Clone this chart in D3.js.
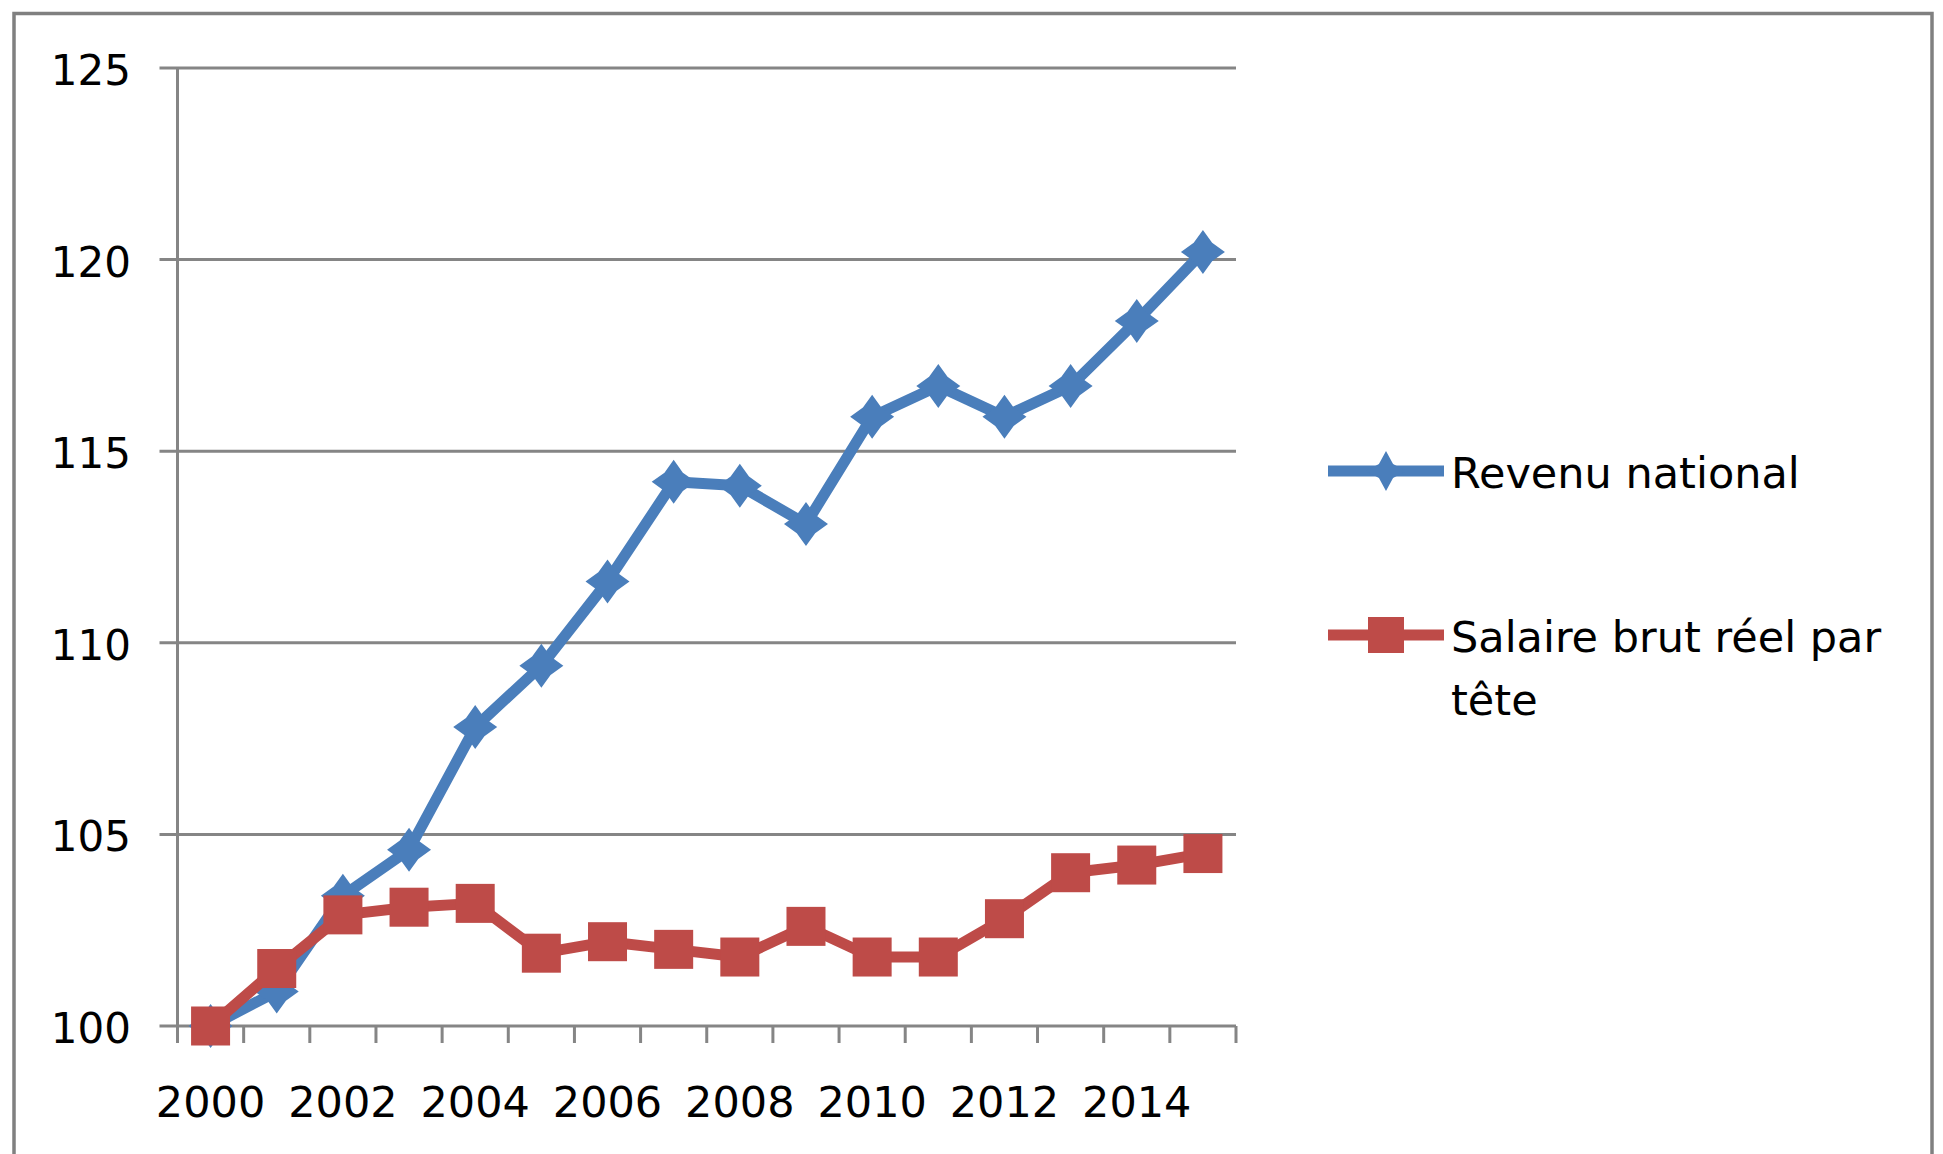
<!DOCTYPE html>
<html><head><meta charset="utf-8">
<script src="https://cdn.jsdelivr.net/npm/d3@7"></script>
<style>html,body{margin:0;padding:0;background:#fff}svg{display:block}</style>
</head><body>
<svg id="chart" width="1943" height="1154"></svg>
<script>
// ---- data ----
const years = [2000,2001,2002,2003,2004,2005,2006,2007,2008,2009,2010,2011,2012,2013,2014,2015];
const revenuNational = [100.0,100.9,103.4,104.6,107.8,109.4,111.6,114.2,114.1,113.1,115.9,116.7,115.9,116.7,118.4,120.2];
const salaireBrut = [100.0,101.5,102.9,103.1,103.2,101.9,102.2,102.0,101.8,102.6,101.8,101.8,102.8,104.0,104.2,104.5];
const yTicks = [100,105,110,115,120,125];
const xTickLabels = [2000,2002,2004,2006,2008,2010,2012,2014];
const seriesNames = ["Revenu national", "Salaire brut réel par tête"];

(function () {
// ---- layout ----
const svg = d3.select("#chart");
const W = 1943, H = 1154;
const pLeft = 177.5, pRight = 1236, pTop = 68, pBottom = 1026;
const blue = "#4A7EBB", red = "#BE4B48", grid = "#858585";
const font = "'DejaVu Sans', Verdana, sans-serif";

svg.append("rect").attr("width", W).attr("height", H).attr("fill", "#fff");
// outer frame (bottom edge outside picture)
svg.append("rect").attr("x", 14).attr("y", 13.5).attr("width", 1918).attr("height", 1200)
  .attr("fill", "none").attr("stroke", "#808080").attr("stroke-width", 3.5);

const x = d3.scaleBand().domain(years).range([pLeft, pRight]);
const y = d3.scaleLinear().domain([100, 125]).range([pBottom, pTop]);

// gridlines + y ticks
const g = svg.append("g");
g.selectAll("line.grid").data(yTicks).join("line")
  .attr("x1", pLeft - 18).attr("x2", pRight)
  .attr("y1", d => y(d)).attr("y2", d => y(d))
  .attr("stroke", grid).attr("stroke-width", 3);
// y axis
g.append("line").attr("x1", pLeft).attr("x2", pLeft).attr("y1", y(125)).attr("y2", pBottom + 17)
  .attr("stroke", grid).attr("stroke-width", 3);
// x ticks at category boundaries
const boundaries = years.map(d => x(d)).concat([pRight]);
g.selectAll("line.xt").data(boundaries).join("line")
  .attr("x1", d => d).attr("x2", d => d).attr("y1", pBottom).attr("y2", pBottom + 17)
  .attr("stroke", grid).attr("stroke-width", 3);

// y labels
g.selectAll("text.yl").data(yTicks).join("text")
  .attr("x", 131).attr("y", d => y(d) + 17)
  .attr("text-anchor", "end").attr("font-family", font).attr("font-size", 42).attr("fill", "#000")
  .text(d => d);
// x labels
g.selectAll("text.xl").data(xTickLabels).join("text")
  .attr("x", d => x(d) + x.bandwidth() / 2).attr("y", 1117)
  .attr("text-anchor", "middle").attr("font-family", font).attr("font-size", 43).attr("fill", "#000")
  .text(d => d);

// star-diamond marker path
function diamond(cx, cy, R, r) {
  const pts = [];
  for (let i = 0; i < 8; i++) {
    const a = -Math.PI / 2 + i * Math.PI / 4;
    const rad = i % 2 === 0 ? R : r;
    pts.push([cx + rad * Math.cos(a), cy + rad * Math.sin(a)]);
  }
  return "M" + pts.map(p => p.join(",")).join("L") + "Z";
}

const line = d3.line().x(d => x(d.year) + x.bandwidth() / 2).y(d => y(d.v));
const blueData = years.map((yr, i) => ({year: yr, v: revenuNational[i]}));
const redData = years.map((yr, i) => ({year: yr, v: salaireBrut[i]}));

// blue series
svg.append("path").datum(blueData).attr("d", line).attr("fill", "none")
  .attr("stroke", blue).attr("stroke-width", 11).attr("stroke-linejoin", "round");
svg.selectAll("path.bm").data(blueData).join("path")
  .attr("d", d => diamond(x(d.year) + x.bandwidth() / 2, y(d.v), 22, 13))
  .attr("fill", blue);

// red series
svg.append("path").datum(redData).attr("d", line).attr("fill", "none")
  .attr("stroke", red).attr("stroke-width", 11).attr("stroke-linejoin", "round");
svg.selectAll("rect.rm").data(redData).join("rect")
  .attr("x", d => x(d.year) + x.bandwidth() / 2 - 19.5).attr("y", d => y(d.v) - 19.5)
  .attr("width", 39).attr("height", 39).attr("fill", red);

// legend
const lg = svg.append("g");
lg.append("line").attr("x1", 1328).attr("x2", 1444).attr("y1", 471).attr("y2", 471)
  .attr("stroke", blue).attr("stroke-width", 11);
lg.append("path").attr("d", diamond(1386, 471, 20, 10)).attr("fill", blue);
lg.append("text").attr("x", 1451).attr("y", 488).attr("font-family", font).attr("font-size", 43)
  .attr("fill", "#000").text(seriesNames[0]);

lg.append("line").attr("x1", 1328).attr("x2", 1444).attr("y1", 635).attr("y2", 635)
  .attr("stroke", red).attr("stroke-width", 11);
lg.append("rect").attr("x", 1368).attr("y", 617).attr("width", 36).attr("height", 36).attr("fill", red);
const t2 = lg.append("text").attr("font-family", font).attr("font-size", 43).attr("fill", "#000");
t2.append("tspan").attr("x", 1451).attr("y", 652).text("Salaire brut réel par");
t2.append("tspan").attr("x", 1451).attr("y", 715).text("tête");
})();
</script>
</body></html>
